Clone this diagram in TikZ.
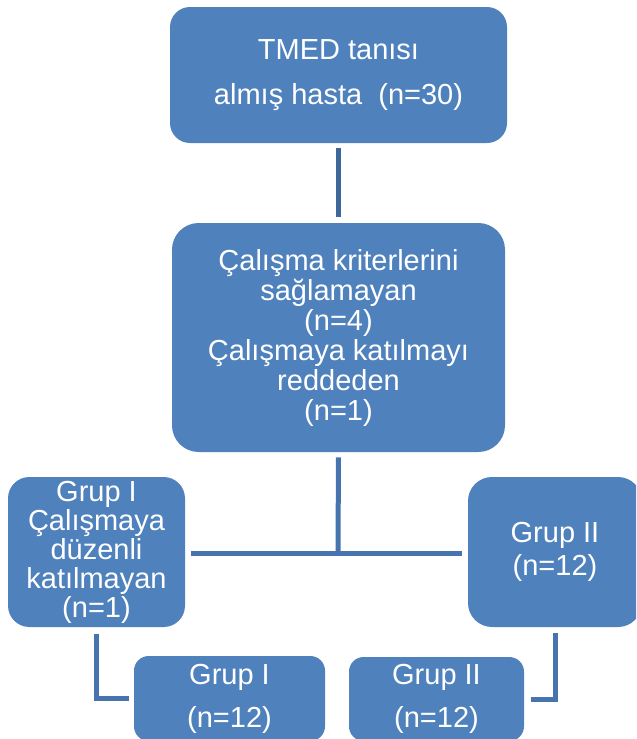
\documentclass[tikz,border=0pt]{standalone}
\usepackage{fontspec}
\setmainfont{Liberation Sans}
\definecolor{boxblue}{HTML}{4F81BD}
\definecolor{lineblue}{HTML}{4674AE}
\definecolor{topline}{HTML}{3D6699}
\begin{document}
\begin{tikzpicture}[x=0.75pt,y=-0.75pt,
  box/.style={fill=boxblue, draw=none, text=white, align=center, inner sep=0pt,
    font=\fontsize{21.75pt}{22.5pt}\selectfont,
    execute at begin node={\rule{0pt}{20.3pt}}},
  conn/.style={draw=lineblue, line width=3.75pt}]
\useasboundingbox (0,0) rectangle (636,739);
\clip (0,0) rectangle (636,739);
\node[box, minimum width=252.75pt, minimum height=102pt, rounded corners=15pt,
  font=\fontsize{21.75pt}{33.75pt}\selectfont] (top) at (338.5,75)
  {TMED tanısı\\almış hasta\ \ (n=30)};
\node[box, minimum width=249.75pt, minimum height=171.75pt, rounded corners=20pt] (mid) at (338.5,337.5)
  {Çalışma kriterlerini\\sağlamayan\\(n=4)\\Çalışmaya katılmayı\\reddeden\\(n=1)};
\node[box, minimum width=132.75pt, minimum height=112.5pt, rounded corners=16pt,
  font=\fontsize{21.75pt}{21.75pt}\selectfont] (lb) at (96.5,552)
  {Grup I\\Çalışmaya\\düzenli\\katılmayan\\(n=1)};
\node[box, minimum width=130.5pt, minimum height=112.5pt, rounded corners=18pt,
  font=\fontsize{21.75pt}{24.75pt}\selectfont] (rb) at (555,552)
  {Grup II\\(n=12)};
\node[box, minimum width=143.25pt, minimum height=63.75pt, rounded corners=11pt,
  font=\fontsize{21.75pt}{32.25pt}\selectfont] (b1) at (229.5,698.5)
  {Grup I\\(n=12)};
\node[box, minimum width=131.25pt, minimum height=63pt, rounded corners=11pt,
  font=\fontsize{21.75pt}{32.25pt}\selectfont] (b2) at (436.5,699)
  {Grup II\\(n=12)};
\coordinate (j) at (338,553);
\draw[conn, draw=topline, shorten <=3.75pt, shorten >=4.5pt] (top.south) -- (mid.north);
\draw[conn, shorten <=3.75pt] (mid.south) -- (j);
\draw[conn, shorten >=4.5pt] (j) -- (j -| lb.east);
\draw[conn, shorten >=4.5pt] (j) -- (j -| rb.west);
\draw[conn, shorten <=5pt, shorten >=3.75pt] (lb.south) |- (b1.west);
\draw[conn, shorten <=4pt, shorten >=5pt] (rb.south) |- (b2.east);
\end{tikzpicture}
\end{document}
